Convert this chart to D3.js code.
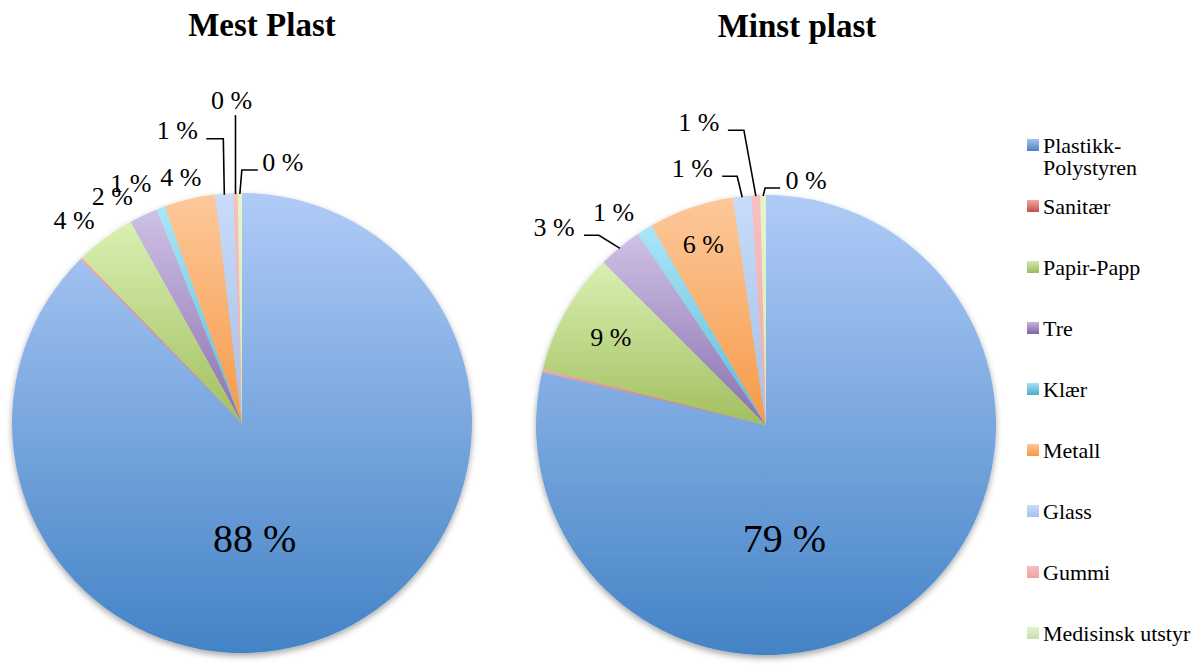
<!DOCTYPE html>
<html>
<head>
<meta charset="utf-8">
<script src="https://cdn.jsdelivr.net/npm/d3@7/dist/d3.min.js"></script>
<style>
  html, body { margin: 0; padding: 0; background: #fff; }
  svg { display: block; font-family: "Liberation Serif", "DejaVu Serif", serif; }
</style>
</head>
<body>
<svg id="chart" width="1198" height="670"></svg>
<script>
// Waste composition (percent of items) on the two beach sections
const categories = ["Plastikk-Polystyren", "Sanitær", "Papir-Papp", "Tre", "Klær", "Metall", "Glass", "Gummi", "Medisinsk utstyr"];
const mestPlast  = [87.6, 0.15, 4.2, 2.0, 0.6, 3.6, 1.25, 0.3, 0.3];
const minstPlast = [78.7, 0.2, 8.6, 3.1, 1.1, 6.0, 1.3, 0.6, 0.4];
const titles = ["Mest Plast", "Minst plast"];
const legendLabels = [["Plastikk-", "Polystyren"], ["Sanitær"], ["Papir-Papp"], ["Tre"], ["Klær"], ["Metall"], ["Glass"], ["Gummi"], ["Medisinsk utstyr"]];

// slice gradients: [top, bottom] for pie slices and for legend keys
const sliceColors = [
  ["#b0cbf7", "#4383c6"], ["#f2aaa8", "#c85a57"], ["#d9f0b3", "#a2bf5f"],
  ["#cfc1e6", "#8a6fae"], ["#abe6f9", "#5bbad5"], ["#fdc89a", "#f69a48"],
  ["#c8dcfa", "#a4bfe9"], ["#f8c0bf", "#eeaaa9"], ["#e6f6cb", "#d4ebb0"]
];
const keyColors = [
  ["#a6c3ee", "#4f7fbf"], ["#f4a6a4", "#c0504d"], ["#d3e9aa", "#9bbb59"],
  ["#c6b5de", "#8064a2"], ["#a4e2f6", "#4bacc6"], ["#fcc896", "#f79646"],
  ["#c7dbf7", "#a6c1ea"], ["#f7bdbc", "#eaa5a4"], ["#e3f3cd", "#c9e0aa"]
];

const svg = d3.select("#chart");
const defs = svg.append("defs");

function addGradient(id, c) {
  const g = defs.append("linearGradient").attr("id", id)
    .attr("x1", 0).attr("y1", 0).attr("x2", 0).attr("y2", 1);
  g.append("stop").attr("offset", "0%").attr("stop-color", c[0]);
  g.append("stop").attr("offset", "100%").attr("stop-color", c[1]);
}
sliceColors.forEach((c, i) => addGradient("slice" + i, c));
keyColors.forEach((c, i) => addGradient("key" + i, c));

const shadow = defs.append("filter").attr("id", "pieShadow")
  .attr("x", "-10%").attr("y", "-10%").attr("width", "120%").attr("height", "125%");
shadow.append("feDropShadow").attr("dx", 0).attr("dy", 3)
  .attr("stdDeviation", 3).attr("flood-color", "#000").attr("flood-opacity", 0.35);

// Label placement per pie, offsets in px from the slice's outer edge point
// (outside labels) or from the arc centroid (inside labels); y is the baseline.
const pies = [
  {
    values: mestPlast, title: titles[0], cx: 242, cy: 423, r: 230, titleX: 262, titleY: 36,
    labels: [
      { inside: true, dx: -31, dy: 23, size: 40 },
      null,
      { dx: -31, dy: -9 },
      { dx: -31, dy: -10 },
      { dx: -30, dy: -16 },
      { dx: -9, dy: -13 },
      { dx: -47, dy: -55, leader: [[-18, -55], [-1, -55]] },
      { dx: -4, dy: -84, leader: [[0, -78], [0, -78]] },
      { dx: 43, dy: -22, leader: [[18, -23], [2, -23]] }
    ]
  },
  {
    values: minstPlast, title: titles[1], cx: 766, cy: 425, r: 230, titleX: 797, titleY: 37,
    labels: [
      { inside: true, dx: -53, dy: 37, size: 40 },
      null,
      { inside: true, k: 1.55, dx: 0, dy: 9 },
      { dx: -66, dy: -11, leader: [[-36, -12], [-21, -12]] },
      { dx: -31, dy: -9 },
      { inside: true, k: 1.67, dx: 0, dy: 9 },
      { dx: -50, dy: -19, leader: [[-20, -20], [-5, -20]] },
      { dx: -57, dy: -64, leader: [[-28, -65], [-12, -65]] },
      { dx: 43, dy: -6, leader: [[17, -7], [2, -7]] }
    ]
  }
];

const pct = v => d3.format(".0f")(v) + " %";

pies.forEach(p => {
  const pie = d3.pie().sort(null).value(d => d)(p.values);
  const arc = d3.arc().innerRadius(0).outerRadius(p.r);
  const edge = d3.arc().innerRadius(p.r).outerRadius(p.r);

  svg.append("text")
    .attr("x", p.titleX).attr("y", p.titleY)
    .attr("text-anchor", "middle")
    .attr("font-size", 33).attr("font-weight", "bold").attr("fill", "#000")
    .text(p.title);

  const g = svg.append("g").attr("transform", `translate(${p.cx},${p.cy})`);
  g.append("g").attr("filter", "url(#pieShadow)")
    .selectAll("path").data(pie).join("path")
    .attr("d", arc)
    .attr("fill", (d, i) => `url(#slice${i})`);

  const lab = g.append("g");
  pie.forEach((d, i) => {
    const L = p.labels[i];
    if (!L) return;
    let x, y;
    if (L.inside) {
      const c = arc.centroid(d);
      const k = L.k || 1;
      x = c[0] * k + L.dx; y = c[1] * k + L.dy;
    } else {
      const e = edge.centroid(d);
      x = e[0] + L.dx; y = e[1] + L.dy;
      if (L.leader) {
        const pts = [[e[0] + L.leader[0][0], e[1] + L.leader[0][1]],
                     [e[0] + L.leader[1][0], e[1] + L.leader[1][1]],
                     [e[0], e[1] + 1]];
        lab.append("path")
          .attr("d", d3.line()(pts))
          .attr("fill", "none").attr("stroke", "#000").attr("stroke-width", 1.6);
      }
    }
    lab.append("text")
      .attr("x", x).attr("y", y)
      .attr("text-anchor", "middle")
      .attr("font-size", L.size || 26).attr("fill", "#000")
      .text(pct(d.data));
  });
});

// Legend
const legend = svg.append("g").attr("transform", "translate(1027,139)");
const rows = legend.selectAll("g").data(categories).join("g")
  .attr("transform", (d, i) => `translate(0,${i * 61})`);
rows.append("rect")
  .attr("width", 12).attr("height", 12)
  .attr("fill", (d, i) => `url(#key${i})`);
rows.append("text")
  .attr("x", 16).attr("y", 14)
  .attr("font-size", 22).attr("fill", "#000")
  .each(function (d, i) {
    const t = d3.select(this);
    legendLabels[i].forEach((line, j) => {
      t.append("tspan").attr("x", 16).attr("dy", j === 0 ? 0 : 22).text(line);
    });
  });
</script>
</body>
</html>
